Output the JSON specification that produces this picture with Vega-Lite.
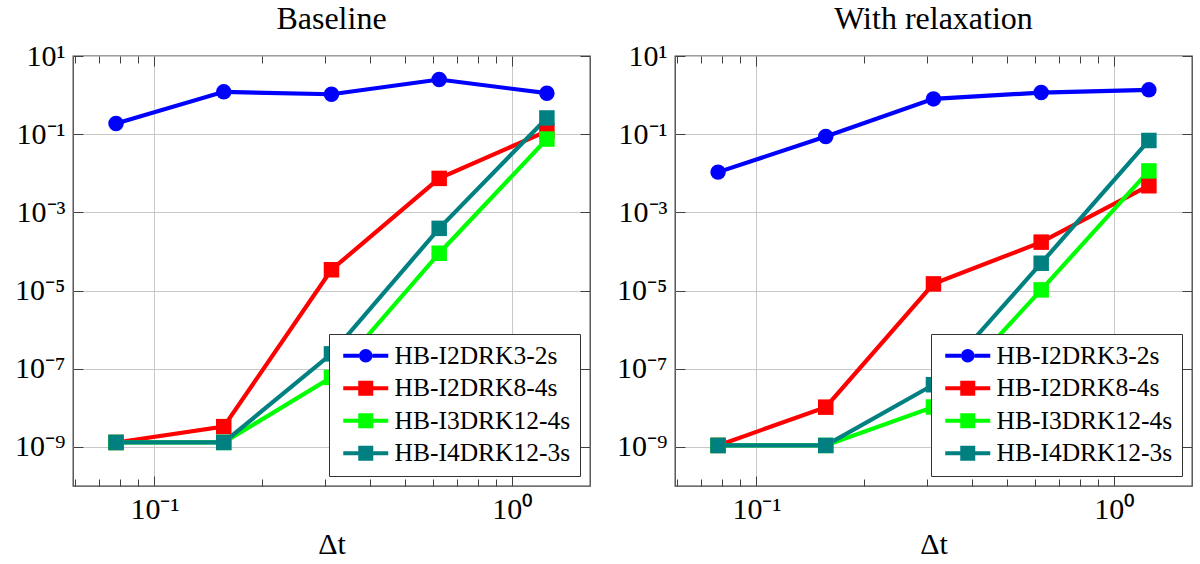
{
  "$schema": "https://vega.github.io/schema/vega-lite/v6.json",
  "padding": {"left": 13, "top": 2, "right": 5, "bottom": 5},
  "background": "white",
  "datasets": {
    "baseline": [
      {"dt": 0.078125, "err": 0.188, "method": "HB-I2DRK3-2s"},
      {"dt": 0.15625, "err": 1.21, "method": "HB-I2DRK3-2s"},
      {"dt": 0.3125, "err": 1.05, "method": "HB-I2DRK3-2s"},
      {"dt": 0.625, "err": 2.5, "method": "HB-I2DRK3-2s"},
      {"dt": 1.25, "err": 1.12, "method": "HB-I2DRK3-2s"},
      {"dt": 0.078125, "err": 1.3e-9, "method": "HB-I2DRK8-4s"},
      {"dt": 0.15625, "err": 3.3e-9, "method": "HB-I2DRK8-4s"},
      {"dt": 0.3125, "err": 3.4e-5, "method": "HB-I2DRK8-4s"},
      {"dt": 0.625, "err": 7.4e-3, "method": "HB-I2DRK8-4s"},
      {"dt": 1.25, "err": 0.12, "method": "HB-I2DRK8-4s"},
      {"dt": 0.078125, "err": 1.3e-9, "method": "HB-I3DRK12-4s"},
      {"dt": 0.15625, "err": 1.3e-9, "method": "HB-I3DRK12-4s"},
      {"dt": 0.3125, "err": 6.0e-8, "method": "HB-I3DRK12-4s"},
      {"dt": 0.625, "err": 9.0e-5, "method": "HB-I3DRK12-4s"},
      {"dt": 1.25, "err": 0.075, "method": "HB-I3DRK12-4s"},
      {"dt": 0.078125, "err": 1.3e-9, "method": "HB-I4DRK12-3s"},
      {"dt": 0.15625, "err": 1.3e-9, "method": "HB-I4DRK12-3s"},
      {"dt": 0.3125, "err": 2.4e-7, "method": "HB-I4DRK12-3s"},
      {"dt": 0.625, "err": 3.9e-4, "method": "HB-I4DRK12-3s"},
      {"dt": 1.25, "err": 0.26, "method": "HB-I4DRK12-3s"}
    ],
    "relax": [
      {"dt": 0.078125, "err": 0.0107, "method": "HB-I2DRK3-2s"},
      {"dt": 0.15625, "err": 0.087, "method": "HB-I2DRK3-2s"},
      {"dt": 0.3125, "err": 0.80, "method": "HB-I2DRK3-2s"},
      {"dt": 0.625, "err": 1.16, "method": "HB-I2DRK3-2s"},
      {"dt": 1.25, "err": 1.36, "method": "HB-I2DRK3-2s"},
      {"dt": 0.078125, "err": 1.09e-9, "method": "HB-I2DRK8-4s"},
      {"dt": 0.15625, "err": 1.04e-8, "method": "HB-I2DRK8-4s"},
      {"dt": 0.3125, "err": 1.48e-5, "method": "HB-I2DRK8-4s"},
      {"dt": 0.625, "err": 1.73e-4, "method": "HB-I2DRK8-4s"},
      {"dt": 1.25, "err": 4.8e-3, "method": "HB-I2DRK8-4s"},
      {"dt": 0.078125, "err": 1.09e-9, "method": "HB-I3DRK12-4s"},
      {"dt": 0.15625, "err": 1.09e-9, "method": "HB-I3DRK12-4s"},
      {"dt": 0.3125, "err": 1.05e-8, "method": "HB-I3DRK12-4s"},
      {"dt": 0.625, "err": 1.04e-5, "method": "HB-I3DRK12-4s"},
      {"dt": 1.25, "err": 0.0115, "method": "HB-I3DRK12-4s"},
      {"dt": 0.078125, "err": 1.09e-9, "method": "HB-I4DRK12-3s"},
      {"dt": 0.15625, "err": 1.09e-9, "method": "HB-I4DRK12-3s"},
      {"dt": 0.3125, "err": 3.9e-8, "method": "HB-I4DRK12-3s"},
      {"dt": 0.625, "err": 5.0e-5, "method": "HB-I4DRK12-3s"},
      {"dt": 1.25, "err": 0.069, "method": "HB-I4DRK12-3s"}
    ]
  },
  "spacing": 23,
  "resolve": {"scale": {"color": "independent"}, "legend": {"color": "independent"}},
  "hconcat": [
    {
      "data": {"name": "baseline"},
      "title": {"text": "Baseline"},
      "width": 517,
      "height": 430,
      "resolve": {"axis": {"x": "independent", "y": "independent"}},
      "layer": [
        {
          "mark": {"type": "line", "strokeWidth": 4.2},
          "encoding": {
            "x": {"field": "dt", "type": "quantitative", "scale": {"type": "log", "domain": [0.05922, 1.6497], "nice": false},
              "axis": {"orient": "bottom", "title": "Δt", "values": [0.06, 0.07, 0.08, 0.09, 0.1, 0.2, 0.3, 0.4, 0.5, 0.6, 0.7, 0.8, 0.9, 1],
                "labelExpr": "(datum.value == 0.1 || datum.value == 1) ? '10' + (round(log(datum.value)/LN10) < 0 ? '⁻' : '') + ['⁰','¹','²','³','⁴','⁵','⁶','⁷','⁸','⁹'][abs(round(log(datum.value)/LN10))] : ''",
                "gridOpacity": {"condition": {"test": "datum.value == 0.1 || datum.value == 1", "value": 1}, "value": 0},
                "tickSize": {"condition": {"test": "datum.value == 0.1 || datum.value == 1", "value": -10}, "value": -7}}},
            "y": {"field": "err", "type": "quantitative", "scale": {"type": "log", "domain": [1e-10, 10], "nice": false},
              "axis": {"orient": "left", "title": null, "values": [10, 0.1, 0.001, 0.00001, 1e-7, 1e-9],
                "labelExpr": "'10' + (round(log(datum.value)/LN10) < 0 ? '⁻' : '') + ['⁰','¹','²','³','⁴','⁵','⁶','⁷','⁸','⁹'][abs(round(log(datum.value)/LN10))]",
                "tickSize": -10}},
            "color": {"field": "method", "type": "nominal",
              "scale": {"domain": ["HB-I2DRK3-2s", "HB-I2DRK8-4s", "HB-I3DRK12-4s", "HB-I4DRK12-3s"], "range": ["#0000ff", "#ff0000", "#00ff00", "#008080"]}}
          }
        },
        {
          "mark": {"type": "point", "filled": true, "opacity": 1, "size": 240},
          "encoding": {
            "x": {"field": "dt", "type": "quantitative",
              "axis": {"orient": "top", "title": null, "labels": false, "grid": false, "values": [0.06, 0.07, 0.08, 0.09, 0.1, 0.2, 0.3, 0.4, 0.5, 0.6, 0.7, 0.8, 0.9, 1],
                "tickSize": {"condition": {"test": "datum.value == 0.1 || datum.value == 1", "value": -10}, "value": -7}}},
            "y": {"field": "err", "type": "quantitative",
              "axis": {"orient": "right", "title": null, "labels": false, "grid": false, "values": [10, 0.1, 0.001, 0.00001, 1e-7, 1e-9], "tickSize": -10}},
            "shape": {"condition": {"test": "datum.method === 'HB-I2DRK3-2s'", "value": "circle"}, "value": "square"},
            "color": {"field": "method", "type": "nominal",
              "scale": {"domain": ["HB-I2DRK3-2s", "HB-I2DRK8-4s", "HB-I3DRK12-4s", "HB-I4DRK12-3s"], "range": ["#0000ff", "#ff0000", "#00ff00", "#008080"]},
              "legend": {"orient": "bottom-right", "offset": 10, "title": null, "symbolType": "square",
                "encoding": {"symbols": {
                  "shape": {"condition": {"test": "datum.value === 'HB-I2DRK3-2s'", "value": "M-3,-0.27 L-0.9,-0.27 L-0.9,0.27 L-3,0.27 Z M0.9,-0.27 L3,-0.27 L3,0.27 L0.9,0.27 Z M0.9,0 A0.9,0.9 0 1,1 -0.9,0 A0.9,0.9 0 1,1 0.9,0 Z"}, "value": "M-3,-0.27 L-1,-0.27 L-1,0.27 L-3,0.27 Z M1,-0.27 L3,-0.27 L3,0.27 L1,0.27 Z M-1,-1 L1,-1 L1,1 L-1,1 Z"},
                  "fill": {"condition": [{"test": "datum.value === 'HB-I2DRK3-2s'", "value": "#0000ff"}, {"test": "datum.value === 'HB-I2DRK8-4s'", "value": "#ff0000"}, {"test": "datum.value === 'HB-I3DRK12-4s'", "value": "#00ff00"}], "value": "#008080"},
                  "stroke": {"value": "transparent"},
                  "opacity": {"value": 1}}}}}
          }
        }
      ]
    },
    {
      "data": {"name": "relax"},
      "title": {"text": "With relaxation"},
      "width": 517,
      "height": 430,
      "resolve": {"axis": {"x": "independent", "y": "independent"}},
      "layer": [
        {
          "mark": {"type": "line", "strokeWidth": 4.2},
          "encoding": {
            "x": {"field": "dt", "type": "quantitative", "scale": {"type": "log", "domain": [0.05922, 1.6497], "nice": false},
              "axis": {"orient": "bottom", "title": "Δt", "values": [0.06, 0.07, 0.08, 0.09, 0.1, 0.2, 0.3, 0.4, 0.5, 0.6, 0.7, 0.8, 0.9, 1],
                "labelExpr": "(datum.value == 0.1 || datum.value == 1) ? '10' + (round(log(datum.value)/LN10) < 0 ? '⁻' : '') + ['⁰','¹','²','³','⁴','⁵','⁶','⁷','⁸','⁹'][abs(round(log(datum.value)/LN10))] : ''",
                "gridOpacity": {"condition": {"test": "datum.value == 0.1 || datum.value == 1", "value": 1}, "value": 0},
                "tickSize": {"condition": {"test": "datum.value == 0.1 || datum.value == 1", "value": -10}, "value": -7}}},
            "y": {"field": "err", "type": "quantitative", "scale": {"type": "log", "domain": [1e-10, 10], "nice": false},
              "axis": {"orient": "left", "title": null, "values": [10, 0.1, 0.001, 0.00001, 1e-7, 1e-9],
                "labelExpr": "'10' + (round(log(datum.value)/LN10) < 0 ? '⁻' : '') + ['⁰','¹','²','³','⁴','⁵','⁶','⁷','⁸','⁹'][abs(round(log(datum.value)/LN10))]",
                "tickSize": -10}},
            "color": {"field": "method", "type": "nominal",
              "scale": {"domain": ["HB-I2DRK3-2s", "HB-I2DRK8-4s", "HB-I3DRK12-4s", "HB-I4DRK12-3s"], "range": ["#0000ff", "#ff0000", "#00ff00", "#008080"]}}
          }
        },
        {
          "mark": {"type": "point", "filled": true, "opacity": 1, "size": 240},
          "encoding": {
            "x": {"field": "dt", "type": "quantitative",
              "axis": {"orient": "top", "title": null, "labels": false, "grid": false, "values": [0.06, 0.07, 0.08, 0.09, 0.1, 0.2, 0.3, 0.4, 0.5, 0.6, 0.7, 0.8, 0.9, 1],
                "tickSize": {"condition": {"test": "datum.value == 0.1 || datum.value == 1", "value": -10}, "value": -7}}},
            "y": {"field": "err", "type": "quantitative",
              "axis": {"orient": "right", "title": null, "labels": false, "grid": false, "values": [10, 0.1, 0.001, 0.00001, 1e-7, 1e-9], "tickSize": -10}},
            "shape": {"condition": {"test": "datum.method === 'HB-I2DRK3-2s'", "value": "circle"}, "value": "square"},
            "color": {"field": "method", "type": "nominal",
              "scale": {"domain": ["HB-I2DRK3-2s", "HB-I2DRK8-4s", "HB-I3DRK12-4s", "HB-I4DRK12-3s"], "range": ["#0000ff", "#ff0000", "#00ff00", "#008080"]},
              "legend": {"orient": "bottom-right", "offset": 10, "title": null, "symbolType": "square",
                "encoding": {"symbols": {
                  "shape": {"condition": {"test": "datum.value === 'HB-I2DRK3-2s'", "value": "M-3,-0.27 L-0.9,-0.27 L-0.9,0.27 L-3,0.27 Z M0.9,-0.27 L3,-0.27 L3,0.27 L0.9,0.27 Z M0.9,0 A0.9,0.9 0 1,1 -0.9,0 A0.9,0.9 0 1,1 0.9,0 Z"}, "value": "M-3,-0.27 L-1,-0.27 L-1,0.27 L-3,0.27 Z M1,-0.27 L3,-0.27 L3,0.27 L1,0.27 Z M-1,-1 L1,-1 L1,1 L-1,1 Z"},
                  "fill": {"condition": [{"test": "datum.value === 'HB-I2DRK3-2s'", "value": "#0000ff"}, {"test": "datum.value === 'HB-I2DRK8-4s'", "value": "#ff0000"}, {"test": "datum.value === 'HB-I3DRK12-4s'", "value": "#00ff00"}], "value": "#008080"},
                  "stroke": {"value": "transparent"},
                  "opacity": {"value": 1}}}}}
          }
        }
      ]
    }
  ],
  "config": {
    "font": "Liberation Serif",
    "view": {"stroke": "#404040", "strokeWidth": 1.3},
    "title": {"font": "Liberation Serif", "fontSize": 32, "fontWeight": "normal", "color": "black", "offset": 5, "anchor": "middle"},
    "axis": {
      "domain": false,
      "grid": true,
      "gridColor": "#c8c8c8",
      "gridWidth": 1,
      "tickColor": "#404040",
      "tickWidth": 1,
      "labelFont": "Liberation Serif",
      "labelFontSize": 30,
      "labelColor": "black",
      "labelPadding": 18,
      "labelFlush": false,
      "labelOverlap": false,
      "titleFont": "Liberation Serif",
      "titleFontSize": 30,
      "titleFontWeight": "normal",
      "titleColor": "black",
      "titlePadding": 2
    },
    "legend": {
      "strokeColor": "#333333",
      "fillColor": "white",
      "padding": 9,
      "labelFont": "Liberation Serif",
      "labelFontSize": 25.5,
      "labelColor": "black",
      "labelLimit": 400,
      "symbolSize": 225,
      "symbolOffset": 15,
      "labelOffset": 16,
      "symbolStrokeWidth": 0,
      "rowPadding": 5.5,
      "cornerRadius": 0
    }
  }
}
